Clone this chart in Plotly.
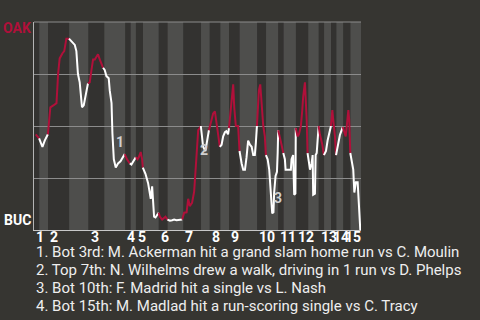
import plotly.graph_objects as go

# ---- data ----
half_bounds = [0, 3, 8, 20, 31, 40, 52, 55, 58, 62, 71, 76, 85, 95, 100, 106, 111,
               117, 127, 132, 139, 142, 149, 156, 162, 165, 169, 172, 176, 180, 186]

play = [1.0, 2.9,
        4.8, 6.1, 7.9,
        9.3, 11.2, 12.8, 13.7, 14.6, 16.2, 17.2, 18.4, 19.9,
        21.3, 23.2, 24.1, 25.0, 26.0, 27.0, 27.3, 28.3, 29.4, 30.7,
        31.7, 32.7, 33.6, 34.6, 36.4, 37.4, 39.3,
        40.2, 41.2, 42.5, 43.1, 44.1, 44.6, 45.4, 46.5, 47.8, 49.2, 50.7, 51.6,
        52.9, 54.5,
        55.4, 57.9,
        58.9, 59.6, 60.7, 61.5, 61.9,
        63.4, 64.9, 65.9, 66.4, 67.2, 67.7, 68.3, 69.1, 70.3, 70.9,
        71.6, 72.9, 73.8, 74.8, 75.9,
        77.3, 78.6, 79.7, 81.1, 82.9, 84.3,
        85.4, 86.8, 87.7, 88.6, 89.9, 91.1, 91.9, 92.8, 93.4, 94.3, 94.9,
        96.2, 97.5, 98.3, 99.5,
        101.0, 101.9, 102.9, 103.4, 104.4, 105.7,
        106.7, 107.6, 108.6, 109.4, 110.4, 110.9,
        112.0, 112.7, 113.3, 113.9, 114.8, 116.1, 116.9,
        117.5, 118.1, 119.0, 120.0, 120.9, 121.8, 122.8, 123.8, 124.7, 125.6, 126.2, 126.8,
        127.3, 127.9, 128.7, 129.2, 129.8, 130.4, 131.3, 131.9,
        132.9, 133.8, 134.8, 135.5, 136.2, 136.6, 137.4, 138.2, 138.6, 138.9,
        139.9, 140.8, 141.8,
        142.7, 143.1, 144.6, 146.1, 146.5, 147.4, 148.0, 148.7, 148.9,
        149.9, 150.7, 151.8, 152.6, 153.1, 154.1, 154.7, 155.1, 155.6,
        156.4, 157.0, 157.9, 158.5, 158.8, 159.8, 160.2, 160.8, 161.3, 161.9,
        162.6, 164.0, 164.9,
        166.1, 167.0, 167.9, 168.9,
        169.7, 170.2, 171.2, 171.8,
        172.7, 174.0, 175.0, 175.6,
        176.3, 177.3, 177.8, 178.8, 179.3, 179.9,
        180.7, 181.6, 182.2, 183.1, 184.1, 184.5, 185.0, 185.6]

wp = [0.46, 0.44,
      0.40, 0.43, 0.46,
      0.59, 0.60, 0.61, 0.75, 0.825, 0.85, 0.86, 0.92, 0.92,
      0.905, 0.89, 0.86, 0.75, 0.71, 0.64, 0.59, 0.60, 0.65, 0.705,
      0.71, 0.77, 0.82, 0.82, 0.845, 0.82, 0.78,
      0.77, 0.74, 0.73, 0.67, 0.61, 0.465, 0.34, 0.30, 0.32, 0.33, 0.35, 0.365,
      0.34, 0.32,
      0.315, 0.35,
      0.34, 0.35, 0.375, 0.34, 0.30,
      0.27, 0.225, 0.18, 0.15, 0.21, 0.128, 0.064, 0.06, 0.072, 0.083,
      0.064, 0.05, 0.055, 0.064, 0.05,
      0.045, 0.047, 0.05, 0.047, 0.047, 0.05,
      0.083, 0.085, 0.15, 0.115, 0.13, 0.185, 0.28, 0.40, 0.48, 0.49, 0.50,
      0.40, 0.38, 0.42, 0.48,
      0.53, 0.56, 0.57, 0.53, 0.48, 0.40,
      0.41, 0.45, 0.47, 0.475, 0.46, 0.49,
      0.59, 0.63, 0.70, 0.59, 0.50, 0.50, 0.38,
      0.34, 0.32, 0.29, 0.29, 0.35, 0.43, 0.41, 0.40, 0.36, 0.36, 0.42, 0.50,
      0.585, 0.67, 0.70, 0.63, 0.56, 0.50, 0.45, 0.36,
      0.34, 0.29, 0.18, 0.08, 0.085, 0.18, 0.26, 0.28, 0.37, 0.48,
      0.45, 0.41, 0.37,
      0.34, 0.29, 0.29, 0.29, 0.34, 0.36, 0.17, 0.175, 0.49,
      0.45, 0.46, 0.50, 0.577, 0.64, 0.71, 0.62, 0.53, 0.37,
      0.32, 0.29, 0.32, 0.36, 0.17, 0.175, 0.36, 0.37, 0.43, 0.50,
      0.46, 0.41, 0.36,
      0.38, 0.43, 0.47, 0.50,
      0.577, 0.53, 0.45, 0.36,
      0.40, 0.457, 0.48, 0.495,
      0.47, 0.45, 0.49, 0.577, 0.53, 0.37,
      0.34, 0.29, 0.18, 0.23, 0.23, 0.18, 0.08, 0.0]

inning_labels = [str(i) for i in range(1, 16)]

event_labels = ["1", "2", "3", "4"]
event_play = [48.8, 96.9, 138.7, 188.8]
event_wp = [0.423, 0.385, 0.154, 0.058]

event_texts = [
    "1. Bot 3rd: M. Ackerman hit a grand slam home run vs C. Moulin",
    "2. Top 7th: N. Wilhelms drew a walk, driving in 1 run vs D. Phelps",
    "3. Bot 10th: F. Madrid hit a single vs L. Nash",
    "4. Bot 15th: M. Madlad hit a run-scoring single vs C. Tracy",
]

home_team = "OAK"
away_team = "BUC"

# ---- style ----
BG = "#363531"
DARK = "#333230"
LIGHT = "#4e4e4c"
RED = "#b0103a"
WHITE = "#ffffff"
FONT = "Roboto"

fig = go.Figure()

# half-inning line segments, coloured by batting side
for k in range(len(half_bounds) - 1):
    lo, hi = half_bounds[k], half_bounds[k + 1]
    xs, ys = [], []
    prev = [i for i, p in enumerate(play) if p < lo]
    if prev:
        xs.append(play[prev[-1]])
        ys.append(wp[prev[-1]])
    for p, v in zip(play, wp):
        if lo <= p < hi:
            xs.append(p)
            ys.append(v)
    if len(xs) < 2:
        continue
    fig.add_trace(go.Scatter(
        x=xs, y=ys, mode="lines",
        line=dict(color=RED if k % 2 == 0 else WHITE, width=2),
        hoverinfo="skip", showlegend=False, cliponaxis=False,
    ))

shapes = []
for k in range(len(half_bounds) - 1):
    shapes.append(dict(
        type="rect", xref="x", yref="paper",
        x0=half_bounds[k], x1=half_bounds[k + 1], y0=0, y1=1,
        fillcolor=LIGHT if k % 2 == 1 else DARK,
        line=dict(width=0), layer="below",
    ))
# top border line (gridline at 100%)
shapes.append(dict(type="line", xref="paper", yref="paper", x0=0, x1=1, y0=1, y1=1,
                   line=dict(color="#8c8c8c", width=1), layer="below"))

annotations = []
for i, lab in enumerate(inning_labels):
    annotations.append(dict(
        x=half_bounds[2 * i], y=0, xref="x", yref="paper",
        xanchor="left", yanchor="top", yshift=3, xshift=0,
        text=f"<b>{lab}</b>", showarrow=False,
        font=dict(family=FONT, size=14, color="#ffffff"),
    ))

for lab, px, pv in zip(event_labels, event_play, event_wp):
    annotations.append(dict(
        x=px, y=pv, xref="x", yref="y", text=f"<b>{lab}</b>", showarrow=False,
        xanchor="center", yanchor="middle",
        font=dict(family=FONT, size=14, color="#cfcfcf"),
    ))

annotations.append(dict(
    x=0, y=0.971, xref="paper", yref="y", xanchor="right", yanchor="middle",
    xshift=-1, text=f"<b>{home_team}</b>", showarrow=False,
    font=dict(family=FONT, size=14, color=RED),
))
annotations.append(dict(
    x=0, y=0.05, xref="paper", yref="y", xanchor="right", yanchor="middle",
    xshift=-1, text=f"<b>{away_team}</b>", showarrow=False,
    font=dict(family=FONT, size=14, color="#ffffff"),
))

for j, line in enumerate(event_texts):
    annotations.append(dict(
        x=0, y=0, xref="paper", yref="paper", xanchor="left", yanchor="middle",
        yshift=-22 - 18 * j, xshift=0, align="left",
        text=line, showarrow=False,
        font=dict(family=FONT, size=15, color="#eeeeee"),
    ))

fig.update_layout(
    width=480, height=320,
    margin=dict(l=34, r=119, t=22, b=90),
    paper_bgcolor=BG, plot_bgcolor=DARK,
    shapes=shapes, annotations=annotations,
    xaxis=dict(range=[0, 186], showgrid=False, zeroline=False,
               showticklabels=False, ticks="", showline=True,
               linecolor="#c8c8c8", linewidth=1, fixedrange=True),
    yaxis=dict(range=[0, 1], dtick=0.25, showgrid=True, gridcolor="#8c8c8c",
               gridwidth=1, zeroline=False, showticklabels=False, ticks="",
               showline=True, linecolor="#b4b4b4", linewidth=1, fixedrange=True),
    font=dict(family=FONT),
)

fig.write_html("out.html", config={"displayModeBar": False})
